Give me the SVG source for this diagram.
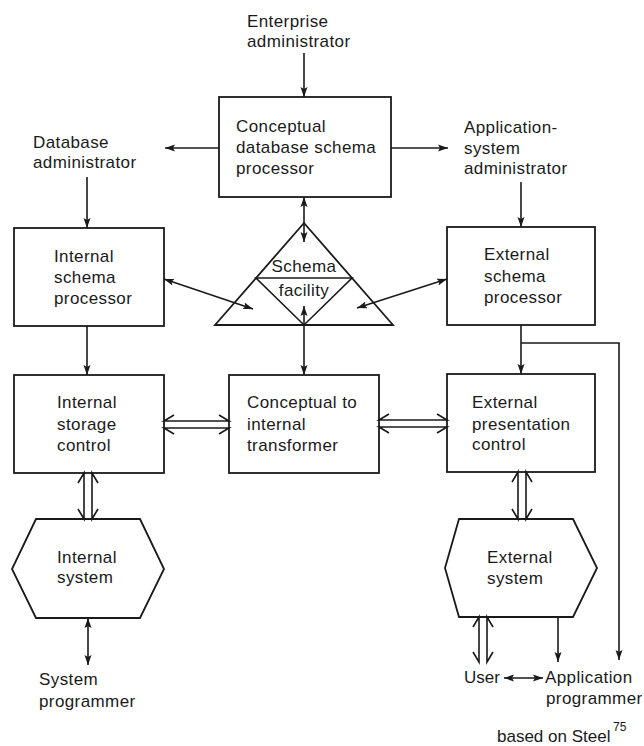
<svg xmlns="http://www.w3.org/2000/svg" width="644" height="746" viewBox="0 0 644 746">
<style>
text{font-family:"Liberation Sans",Arial,sans-serif;font-size:17px;fill:#1a1a1a;letter-spacing:0.4px}
.box{fill:#fff;stroke:#1a1a1a;stroke-width:1.8}
.ln{fill:none;stroke:#1a1a1a;stroke-width:1.6}
.a{marker-end:url(#ah)}
.b{marker-start:url(#ah);marker-end:url(#ah)}
.tight{letter-spacing:0}
.sup{font-size:12px;letter-spacing:0}
</style>
<defs>
<marker id="ah" markerUnits="userSpaceOnUse" markerWidth="11" markerHeight="8" refX="10" refY="4" orient="auto-start-reverse" viewBox="0 0 11 8">
<path d="M0,0.5 L10,4 L0,7.5 L2,4 z" fill="#1a1a1a"/>
</marker>
</defs>
<rect width="644" height="746" fill="#fff"/>

<g id="enterprise-admin"><text x="247" y="27">Enterprise</text><text x="247" y="47">administrator</text></g>
<g id="db-admin"><text x="33" y="148">Database</text><text x="33" y="168">administrator</text></g>
<g id="app-admin"><text x="464" y="133">Application-</text><text x="464" y="154">system</text><text x="464" y="174">administrator</text></g>

<g id="conceptual-processor"><rect class="box" x="219" y="97" width="172" height="100"/><text x="236" y="132">Conceptual</text><text x="236" y="153">database schema</text><text x="236" y="174">processor</text></g>
<g id="internal-schema-processor"><rect class="box" x="14" y="228" width="150" height="98"/><text x="54" y="262">Internal</text><text x="54" y="283">schema</text><text x="54" y="304">processor</text></g>
<g id="external-schema-processor"><rect class="box" x="447" y="227" width="148" height="98"/><text x="484" y="260">External</text><text x="484" y="282">schema</text><text x="484" y="303">processor</text></g>
<g id="schema-facility"><path class="box" d="M304,223 L393,325 L215,325 Z"/><path class="ln" d="M256,278 H352 L304,325 Z"/><text x="304" y="272" text-anchor="middle">Schema</text><text x="304" y="296" text-anchor="middle">facility</text></g>

<g id="internal-storage-control"><rect class="box" x="14" y="375" width="150" height="98"/><text x="57" y="408">Internal</text><text x="57" y="430">storage</text><text x="57" y="451">control</text></g>
<g id="conceptual-internal-transformer"><rect class="box" x="229" y="375" width="150" height="98"/><text x="247" y="408">Conceptual to</text><text x="247" y="430">internal</text><text x="247" y="451">transformer</text></g>
<g id="external-presentation-control"><rect class="box" x="447" y="374" width="148" height="98"/><text x="472" y="408">External</text><text x="472" y="430">presentation</text><text x="472" y="450">control</text></g>

<g id="internal-system"><path class="box" d="M36,519 H140 L164,569 L140,618 H36 L12,569 Z"/><text x="57" y="563">Internal</text><text x="57" y="583">system</text></g>
<g id="external-system"><path class="box" d="M459,519 H573 L597,568 L573,617 H459 L445,568 Z"/><text x="487" y="563">External</text><text x="487" y="584">system</text></g>

<g id="system-programmer"><text x="39" y="685">System</text><text x="39" y="707">programmer</text></g>
<g id="user"><text class="tight" x="464" y="683">User</text></g>
<g id="application-programmer"><text x="545" y="683">Application</text><text x="546" y="704">programmer</text></g>
<g id="source"><text class="tight" x="497" y="742">based on Steel</text><text class="sup" x="613" y="731">75</text></g>

<g id="connectors">
<path class="ln a" d="M304,53 V97"/>
<path class="ln a" d="M219,148 H165"/>
<path class="ln a" d="M391,148 H448"/>
<path class="ln a" d="M87,177 V228"/>
<path class="ln a" d="M521,182 V227"/>
<path class="ln b" d="M304,197 V242"/>
<path class="ln b" d="M304,306 V375"/>
<path class="ln b" d="M164,279 L253,309"/>
<path class="ln b" d="M447,279 L357,308"/>
<path class="ln a" d="M87,326 V375"/>
<path class="ln a" d="M521,325 V374"/>
<path class="ln a" d="M521,343 H619 V660"/>
<path class="ln" d="M174,415 L164,421 H229 L219,415 M174,434 L164,428 H229 L219,434"/>
<path class="ln" d="M389,414 L379,420 H447 L437,414 M389,433 L379,427 H447 L437,433"/>
<path class="ln" d="M78,483 L84,473 V519 L78,509 M98,483 L92,473 V519 L98,509"/>
<path class="ln" d="M512,482 L518,472 V519 L512,509 M532,482 L526,472 V519 L532,509"/>
<path class="ln b" d="M88,618 V665"/>
<path class="ln" d="M473,627 L479,617 V662 L473,652 M493,627 L487,617 V662 L493,652"/>
<path class="ln a" d="M558,617 V662"/>
<path class="ln b" d="M504,678 H543"/>
</g>
</svg>
